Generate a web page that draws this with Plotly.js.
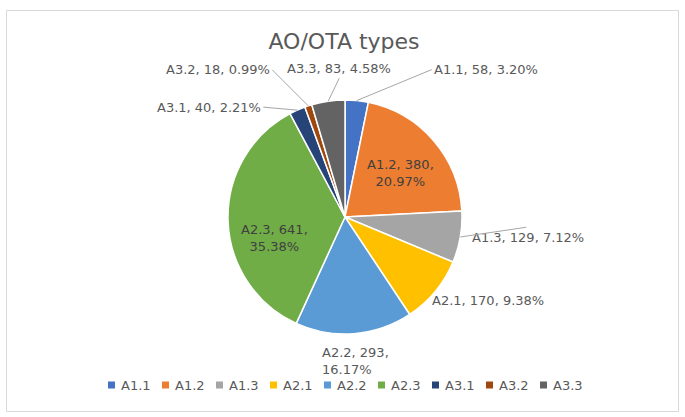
<!DOCTYPE html>
<html><head><meta charset="utf-8">
<script src="https://cdn.plot.ly/plotly-3.0.1.min.js"></script>
<style>html,body{margin:0;padding:0;background:#fff}#chart{width:685px;height:417px}</style>
</head><body><div id="chart"></div>
<script>
// ---- data ----
const categories = ['A1.1','A1.2','A1.3','A2.1','A2.2','A2.3','A3.1','A3.2','A3.3'];
const counts = [58, 380, 129, 170, 293, 641, 40, 18, 83];
const chartTitle = 'AO/OTA types';

// ---- styles ----
const colors = ['#4472C4','#ED7D31','#A5A5A5','#FFC000','#5B9BD5','#70AD47','#264478','#9E480E','#636363'];
const W = 685, H = 417;
const CX = 345, CY = 217, R = 117;           // pie geometry in px
const FONT = 'DejaVu Sans';
// label placement per slice: anchor at fraction f of radius along mid-angle, then offset
const labelStyle = [
  {mode:'line',  f:1,   ox:75,  oy:-31, xa:'left',   ya:'middle'},
  {mode:'in',    f:0.6, ox:2,   oy:2,   xa:'center', ya:'middle', br:true},
  {mode:'plain', f:1,   ox:10,  oy:1,   xa:'left',   ya:'middle', extra:{ax:68, ay:-10}},
  {mode:'plain', f:1,   ox:-5,  oy:9,   xa:'left',   ya:'middle'},
  {mode:'plain', f:1,   ox:-34, oy:9,   xa:'left',   ya:'top', br:true},
  {mode:'in',    f:0.6, ox:0,   oy:19,  xa:'center', ya:'middle', br:true},
  {mode:'line',  f:1,   ox:-34, oy:-3,  xa:'right',  ya:'middle'},
  {mode:'line',  f:1,   ox:-36, oy:-36, xa:'right',  ya:'middle'},
  {mode:'line',  f:1,   ox:11,  oy:-23, xa:'center', ya:'bottom'}
];

const px = x => x / W;
const py = y => 1 - y / H;
const total = counts.reduce((a,b)=>a+b,0);

const pie = {
  type:'pie', labels:categories, values:counts, sort:false, direction:'clockwise', rotation:0,
  marker:{colors:colors, line:{color:'#ffffff', width:1.5}},
  textinfo:'none', hoverinfo:'label+value+percent', showlegend:false,
  domain:{x:[px(CX-R), px(CX+R)], y:[py(CY+R), py(CY-R)]}
};

const annotations = [];
const shapes = [];
let cum = 0;
counts.forEach((v,i)=>{
  const mid = (cum + v/2) / total * 2*Math.PI;
  cum += v;
  const s = labelStyle[i];
  const ax0 = CX + s.f*R*Math.sin(mid);
  const ay0 = CY - s.f*R*Math.cos(mid);
  const pct = (v/total*100).toFixed(2) + '%';
  const txt = categories[i] + ', ' + v + ',' + (s.br ? '<br>' : ' ') + pct;
  const base = {xref:'paper', yref:'paper', x:px(ax0), y:py(ay0), text:txt,
    xanchor:s.xa, yanchor:s.ya, align: s.mode==='in' ? 'center' : 'left',
    font:{family:FONT, size:13, color: s.mode==='in' ? '#404040' : '#595959'}};
  if (s.mode === 'line') {
    Object.assign(base, {showarrow:true, ax:s.ox, ay:s.oy, arrowhead:0, arrowwidth:1,
      arrowcolor:'#a6a6a6', standoff:0, startstandoff:0});
  } else {
    Object.assign(base, {showarrow:false, xshift:s.ox, yshift:-s.oy});
  }
  annotations.push(base);
  if (s.extra) {
    annotations.push({xref:'paper', yref:'paper', x:px(ax0), y:py(ay0), text:' ',
      showarrow:true, ax:s.extra.ax, ay:s.extra.ay, arrowhead:0, arrowwidth:1,
      arrowcolor:'#a6a6a6', standoff:0, font:{family:FONT, size:2}});
  }
});

// legend (custom, compact like the original)
const pitch = 54, sq = 7, legY = 385;
const legW = categories.length*pitch - 12;
let lx = CX - legW/2;
categories.forEach((c,i)=>{
  const x = lx + i*pitch;
  shapes.push({type:'rect', xref:'paper', yref:'paper', x0:px(x), x1:px(x+sq),
    y0:py(legY+sq/2), y1:py(legY-sq/2), fillcolor:colors[i], line:{width:0}});
  annotations.push({xref:'paper', yref:'paper', x:px(x+sq+4), y:py(legY), text:c,
    showarrow:false, xanchor:'left', yanchor:'middle', font:{family:FONT, size:13, color:'#595959'}});
});

// chart frame
shapes.push({type:'rect', xref:'paper', yref:'paper', x0:px(6.5), x1:px(678.5), y0:py(411.5), y1:py(10.5),
  line:{color:'#d9d9d9', width:1}, fillcolor:'rgba(0,0,0,0)', layer:'below'});

const layout = {
  width:W, height:H, margin:{l:0, r:0, t:0, b:0},
  paper_bgcolor:'#ffffff', plot_bgcolor:'#ffffff',
  title:{text:chartTitle, x:px(344), xanchor:'center', xref:'paper', y:py(41), yref:'container', yanchor:'middle',
    font:{family:FONT, size:22, color:'#595959'}},
  annotations:annotations, shapes:shapes, showlegend:false
};

Plotly.newPlot('chart', [pie], layout, {staticPlot:true, displayModeBar:false});
</script></body></html>
